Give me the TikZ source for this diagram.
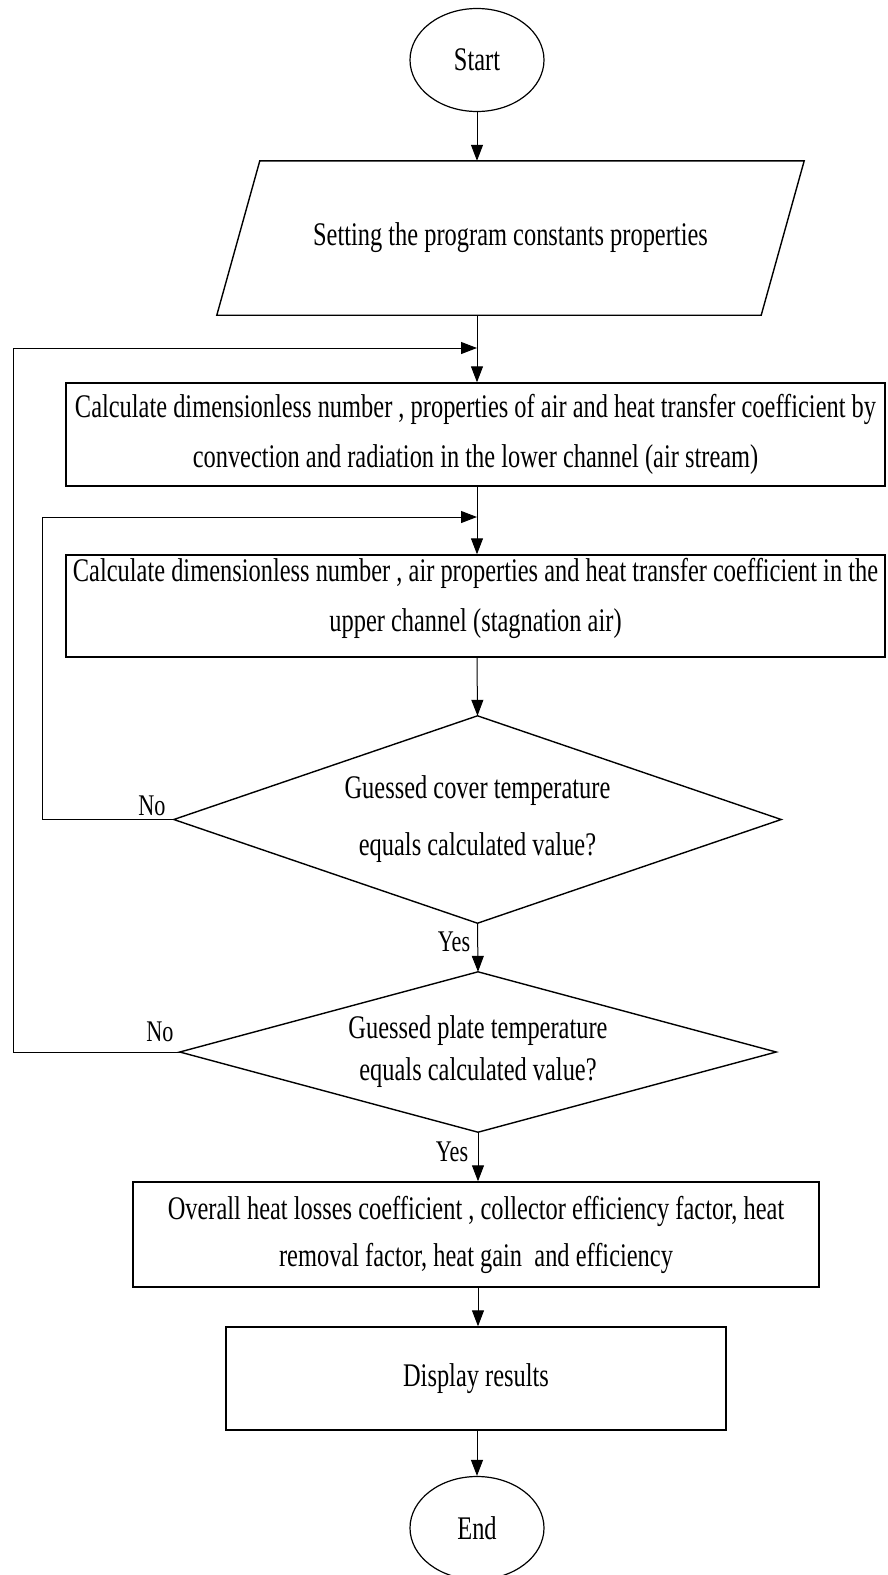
\documentclass[tikz,border=0pt]{standalone}
\usepackage{fontspec}
\setmainfont{Liberation Serif}[FakeStretch=0.74]
\usetikzlibrary{shapes.geometric,arrows.meta}
\begin{document}
\begin{tikzpicture}[x=1pt,y=-1pt,
  txt/.style={font=\fontsize{33}{50}\selectfont, align=center, inner sep=0pt},
  boxnode/.style={txt, draw, line width=1.4pt, minimum width=#1},
  termnode/.style={txt, draw, ellipse, line width=1.2pt, minimum width=134pt, minimum height=103pt},
  frame/.style={txt},
  conn/.style={line width=1pt, -{Triangle[length=16pt,width=12pt]}},
  plain/.style={line width=1.4pt},
  lbl/.style={font=\fontsize{30}{36}\selectfont, inner sep=0pt}
]
\useasboundingbox (0,0) rectangle (887,1575);
\fill[white] (0,0) rectangle (887,1575);

% nodes
\node[termnode] (start) at (477,60) {Start};
\node[frame, minimum width=587pt, minimum height=154pt] (setp) at (510.5,238) {Setting the program constants properties};
\draw[plain] ([xshift=43pt]setp.north west) -- (setp.north east) -- ([xshift=-43pt]setp.south east) -- (setp.south west) -- cycle;

\node[boxnode=819pt, minimum height=103pt] (r1) at (475.5,434.5) {Calculate dimensionless number , properties of air and heat transfer coefficient by\\convection and radiation in the lower channel (air stream)};
\node[boxnode=819pt, minimum height=102pt] (r2) at (475.5,606) {};
\node[txt] (r2t) at (475.5,598) {Calculate dimensionless number , air properties and heat transfer coefficient in the\\upper channel (stagnation air)};

\node[frame, minimum width=607pt, minimum height=207pt, font=\fontsize{33}{57}\selectfont] (d1) at (477.5,819.5) {Guessed cover temperature\\equals calculated value?};
\draw[plain] (d1.north) -- (d1.east) -- (d1.south) -- (d1.west) -- cycle;

\node[frame, minimum width=596pt, minimum height=160pt, font=\fontsize{33}{42}\selectfont] (d2) at (478,1052) {Guessed plate temperature\\equals calculated value?};
\draw[plain] (d2.north) -- (d2.east) -- (d2.south) -- (d2.west) -- cycle;

\node[boxnode=686pt, minimum height=105pt, font=\fontsize{33}{47}\selectfont] (r3) at (476,1234.5) {Overall heat losses coefficient , collector efficiency factor, heat\\removal factor, heat gain~ and efficiency};
\node[boxnode=500pt, minimum height=103pt] (r4) at (476,1378.5) {Display results};
\node[termnode] (end) at (477,1528) {End};

% labels
\node[lbl] (no1) at (152,806) {No};
\node[lbl] (no2) at (160,1032) {No};
\node[lbl] (yes1) at (454,942) {Yes};
\node[lbl] (yes2) at (452,1152) {Yes};

% junction coordinates
\coordinate (j1) at (477,348);
\coordinate (j2) at (477,517);
\coordinate (l1) at (13,1052);
\coordinate (l1t) at (13,348);
\coordinate (l2) at (42,819.5);
\coordinate (l2t) at (42,517);

% connectors
\draw[conn] (start.south) -- (start.south |- setp.north);
\draw[conn] (setp.south -| start.south) -- (start.south |- r1.north);
\draw[conn] (r1.south -| start.south) -- (start.south |- r2.north);
\draw[conn] (r2.south -| start.south) -- (d1.north);
\draw[conn] (d1.south) -- (d2.north);
\draw[conn] (d2.south) -- (d2.south |- r3.north);
\draw[conn] (r3.south -| d2.south) -- (d2.south |- r4.north);
\draw[conn] (r4.south -| end.north) -- (end.north);

\draw[conn] (d2.west) -- (l1) -- (l1t) -- (j1);
\draw[conn] (d1.west) -- (l2) -- (l2t) -- (j2);
\end{tikzpicture}
\end{document}
